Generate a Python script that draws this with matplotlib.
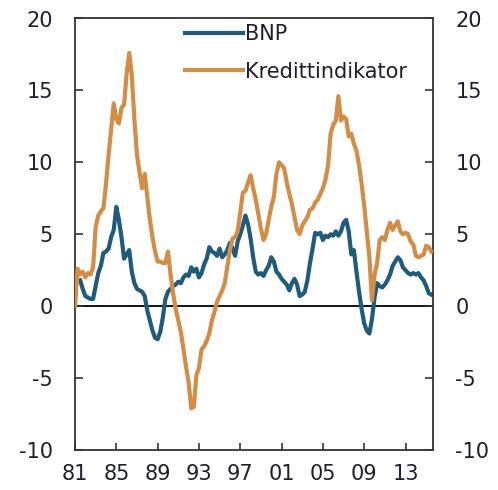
import numpy as np
import matplotlib
matplotlib.use("Agg")
import matplotlib.pyplot as plt

# quarterly series, 4-quarter growth (%)
bnp_start = 1981.5
bnp = [1.8, 1.2, 0.7, 0.6, 0.5, 0.5, 1.4, 2.3, 2.8, 3.7, 3.8, 4.0, 4.8, 5.3,
       6.9, 6.0, 4.8, 3.3, 3.6, 3.9, 2.4, 1.6, 1.2, 1.1, 1.0, 0.7, -0.3, -1.0,
       -1.7, -2.2, -2.3, -1.8, -0.8, 0.5, 1.0, 1.2, 1.4, 1.5, 1.7, 1.6, 2.0,
       2.2, 2.1, 2.7, 2.4, 2.6, 2.0, 2.3, 2.9, 3.3, 4.1, 3.8, 3.7, 3.5, 4.0,
       3.4, 3.6, 3.9, 4.4, 4.0, 3.5, 4.5, 5.0, 5.6, 6.3, 5.7, 4.7, 3.4, 2.4,
       2.2, 2.3, 2.1, 2.5, 2.8, 3.4, 3.1, 2.4, 2.2, 1.9, 1.7, 1.5, 1.1, 1.6,
       1.9, 1.5, 0.7, 0.8, 1.0, 1.8, 3.0, 4.0, 5.1, 5.0, 5.1, 4.6, 4.9, 4.8,
       5.0, 4.9, 5.2, 4.9, 5.2, 5.8, 6.0, 5.2, 3.6, 3.9, 2.4, 1.0, -0.2, -1.2,
       -1.7, -1.9, -0.9, 0.6, 1.6, 1.4, 1.3, 1.5, 1.8, 2.2, 2.8, 3.1, 3.4,
       3.2, 2.7, 2.5, 2.3, 2.2, 2.3, 2.2, 2.3, 2.0, 1.8, 1.4, 0.9, 0.8]

kred_start = 1981.0
kred = [0.0, 2.6, 2.2, 2.4, 2.0, 2.3, 2.2, 2.7, 5.5, 6.3, 6.6, 6.8, 8.5, 10.5,
        12.3, 14.1, 13.0, 12.7, 13.8, 14.0, 16.2, 17.6, 16.0, 13.0, 10.5, 9.3,
        8.2, 9.2, 7.6, 6.0, 4.8, 3.8, 3.1, 3.1, 3.0, 3.0, 3.8, 2.2, 0.9, -0.2,
        -1.0, -1.8, -3.0, -4.2, -5.3, -7.1, -7.0, -4.8, -4.3, -3.0, -2.8, -2.4,
        -1.9, -1.0, -0.4, 0.3, 0.7, 1.1, 1.6, 2.8, 3.9, 4.7, 4.8, 5.2, 6.5, 7.9,
        8.0, 8.6, 9.1, 8.2, 7.4, 6.4, 5.4, 4.6, 5.0, 6.0, 6.9, 7.6, 9.2, 10.0,
        9.8, 9.6, 8.6, 7.8, 7.1, 6.2, 5.3, 5.0, 5.6, 5.9, 6.2, 6.7, 6.8, 7.2,
        7.4, 7.8, 8.2, 8.8, 9.8, 12.0, 12.6, 12.9, 14.6, 12.9, 13.2, 13.0, 11.8,
        12.0, 11.3, 10.8, 9.8, 8.5, 7.0, 5.2, 3.4, 0.4, 2.2, 3.0, 4.6, 4.8, 4.6,
        5.3, 5.8, 5.3, 5.6, 5.9, 5.2, 5.0, 5.1, 5.0, 4.5, 4.3, 3.5, 3.4, 3.5,
        3.6, 4.2, 4.1, 3.8]

xtick_years = [1981, 1985, 1989, 1993, 1997, 2001, 2005, 2009, 2013]
xtick_labels = ["81", "85", "89", "93", "97", "01", "05", "09", "13"]
yticks = [-10, -5, 0, 5, 10, 15, 20]

blue = "#1f5b7d"
orange = "#d38d45"
txt = "#1e1e30"
plt.rcParams["font.family"] = ["DejaVu Sans"]
plt.rcParams["axes.unicode_minus"] = False
fs = 15

fig = plt.figure(figsize=(4.98, 4.90), dpi=100)
ax = fig.add_axes([75/498, 1-450/490, (433-75)/498, (450-18.5)/490])

x_bnp = bnp_start + 0.25*np.arange(len(bnp))
x_kred = kred_start + 0.25*np.arange(len(kred))

ax.axhline(0, color="black", lw=1.3, zorder=1)
ax.plot(x_bnp, bnp, color=blue, lw=3.0, label="BNP", zorder=2, solid_joinstyle="round")
ax.plot(x_kred, kred, color=orange, lw=3.0, label="Kredittindikator", zorder=3, solid_joinstyle="round")

ax.set_xlim(1981.0, 2015.66)
ax.set_ylim(-10, 20)
ax.set_xticks(xtick_years)
ax.set_xticklabels(xtick_labels)
ax.set_yticks(yticks)
ax.tick_params(axis="x", direction="in", length=5, width=1.2, color="#333333",
               labelsize=fs, labelcolor=txt, pad=10)
ax.tick_params(axis="y", direction="in", length=6, width=1.2, color="#333333",
               labelsize=fs, labelcolor=txt, left=True, right=True,
               labelleft=True, labelright=True)
ax.tick_params(axis="y", which="major", pad=16)
for lab in ax.get_yticklabels():
    pass
ax.yaxis.set_tick_params(which="major", pad=16)
for t in ax.yaxis.get_major_ticks():
    t.set_pad(16)
for s in ax.spines.values():
    s.set_color("#333333")
    s.set_linewidth(1.3)

leg = fig.legend(loc="upper left", bbox_to_anchor=(185/498, 1-24/490),
                 frameon=False, fontsize=fs, handlelength=2.8, handletextpad=0.1,
                 labelspacing=0.85, borderpad=0, borderaxespad=0)
for t in leg.get_texts():
    t.set_color(txt)

fig.savefig("out.png", dpi=100)
